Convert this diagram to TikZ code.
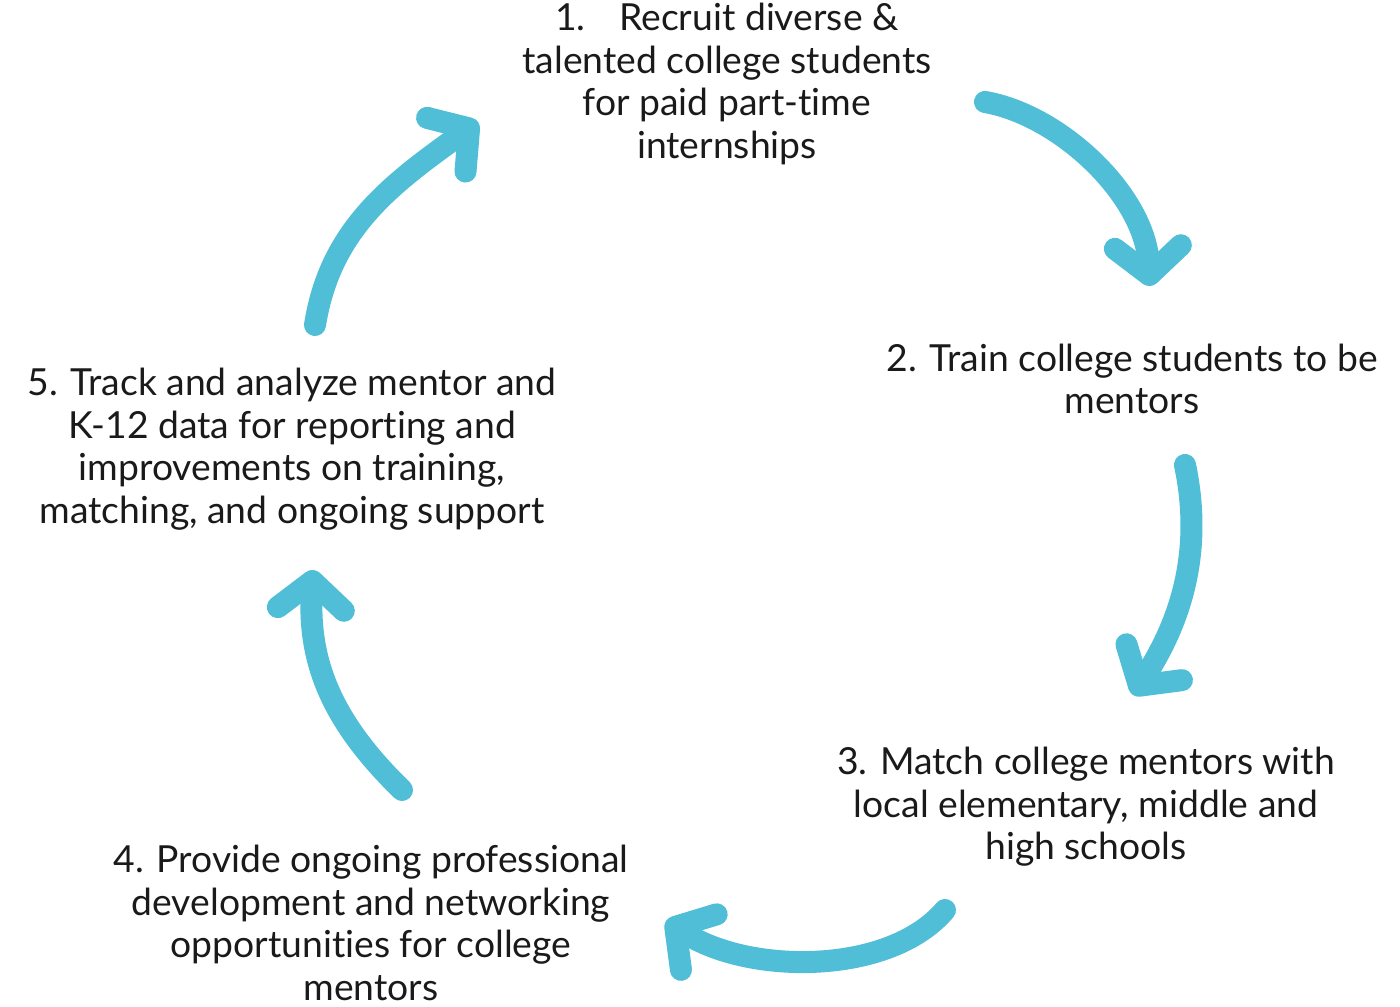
\documentclass[tikz,border=0pt]{standalone}
\usepackage{fontspec}
\setmainfont{Lato}[Ligatures=NoCommon]
\usepackage{tikz}
\usetikzlibrary{arrows.meta}
\definecolor{cyclecyan}{HTML}{4FBED6}
\definecolor{steptext}{HTML}{1A1A1A}
\tikzset{
    stepnode/.style={align=center, text=steptext, inner sep=0mm, font=\fontsize{10.6}{12.1}\selectfont},
    cyclearrow/.style={draw=cyclecyan, line width=2.2mm, line cap=round, line join=round},
    cyclehead/.style={cyclearrow, -{Straight Barb[length=2.8mm, width=6.6mm, round]}}
}

\begin{document}
\begin{tikzpicture}[x=0.01cm, y=-0.01cm]
        \useasboundingbox (0,0) rectangle (1400,1007);
        \node (s1) [stepnode] at (727,84) {1.\hspace{0.9em}Recruit diverse \&\\talented college students\\for paid part-time\\internships};
        \node (s2) [stepnode] at (1132,379) {2. Train college students to be\\mentors};
        \node (s3) [stepnode] at (1086,807) {3. Match college mentors with\\local elementary, middle and\\high schools};
        \node (s4) [stepnode] at (371,923) {4. Provide ongoing professional\\development and networking\\opportunities for college\\mentors};
        \node (s5) [stepnode] at (292,449) {5. Track and analyze mentor and\\K-12 data for reporting and\\improvements on training,\\matching, and ongoing support};
        % arrow ends
        \coordinate (a1) at (985,102);
        \coordinate (b1) at (1150,286);
        \coordinate (a2) at (1185,465);
        \coordinate (b2) at (1133,695);
        \coordinate (a3) at (945,910);
        \coordinate (b3) at (666,921);
        \coordinate (a4) at (402,790);
        \coordinate (b4) at (313,570);
        \coordinate (a5) at (315,325);
        \coordinate (b5) at (478,122);
        \draw [cyclehead] (a1) .. controls (1060,115) and (1145,195) .. (b1);
        \draw [cyclehead] (a2) .. controls (1205,560) and (1175,630) .. (b2);
        \draw [cyclehead] (a3) .. controls (890,975) and (750,975) .. (b3);
        \draw [cyclehead] (a4) .. controls (330,720) and (308,660) .. (b4);
        \draw [cyclehead] (a5) .. controls (330,230) and (390,185) .. (b5);
\end{tikzpicture}
\end{document}
